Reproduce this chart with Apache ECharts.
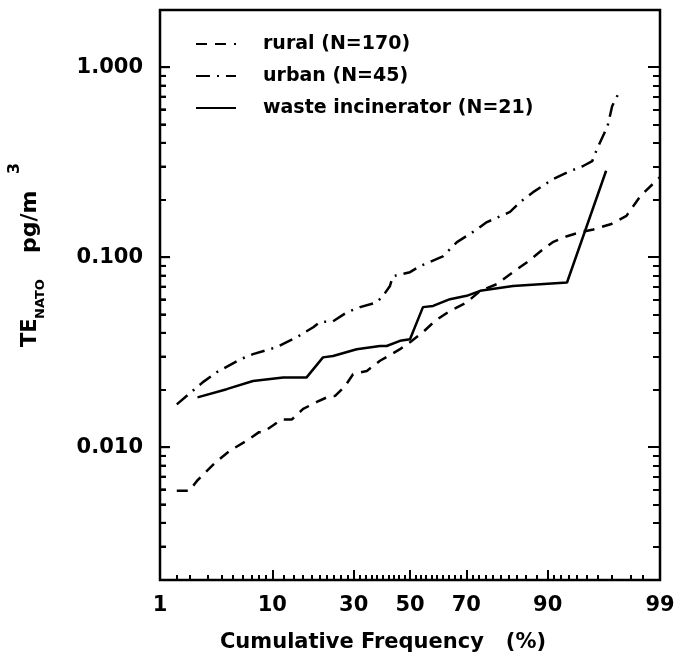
<!DOCTYPE html>
<html>
<head>
<meta charset="utf-8">
<script src="https://cdn.jsdelivr.net/npm/echarts@6/dist/echarts.min.js"></script>
<style>
html,body{margin:0;padding:0;background:#fff;}
#chart{width:678px;height:659px;}
</style>
</head>
<body>
<div id="chart"></div>
<script>
// ---- data (cumulative frequency in %, concentration in pg/m3) ----
const ruralPct = [1.5, 2.0, 2.4, 3.5, 4.7, 6.4, 8.0, 8.6, 10.1, 11.6, 13.6, 16.0, 19.3, 22.8, 24.3, 27.3, 29.8, 34.4, 39.0, 46.3, 50.0, 54.8, 59.2, 64.5, 70.1, 74.3, 79.0, 83.1, 86.2, 89.2, 90.8, 92.8, 94.3, 95.6, 96.9, 97.8, 98.4, 99.0];
const ruralVal = [0.0059, 0.0059, 0.0067, 0.0083, 0.0096, 0.0108, 0.0120, 0.0120, 0.0130, 0.0140, 0.0140, 0.0159, 0.0173, 0.0186, 0.0186, 0.0210, 0.0242, 0.0252, 0.0285, 0.0328, 0.0357, 0.0403, 0.0462, 0.0522, 0.0578, 0.0665, 0.0721, 0.0834, 0.0941, 0.110, 0.120, 0.129, 0.135, 0.140, 0.149, 0.165, 0.210, 0.264];

const urbanPct = [1.5, 2.7, 3.6, 5.7, 7.2, 10.7, 14.6, 18.4, 20.1, 23.7, 27.8, 32.1, 37.8, 40.1, 42.6, 43.7, 50.0, 53.7, 62.0, 66.9, 73.3, 76.3, 82.4, 84.7, 87.4, 90.8, 93.2, 94.6, 95.5, 95.9, 96.7, 97.0, 97.5];
const urbanVal = [0.0168, 0.0220, 0.0248, 0.0290, 0.0309, 0.0336, 0.0379, 0.0428, 0.0456, 0.0460, 0.0512, 0.0546, 0.0578, 0.0626, 0.0706, 0.0794, 0.0834, 0.0897, 0.101, 0.120, 0.140, 0.153, 0.173, 0.195, 0.220, 0.257, 0.284, 0.301, 0.320, 0.370, 0.489, 0.623, 0.766];

const wastePct = [2.4, 4.4, 7.2, 11.9, 16.8, 20.9, 23.7, 31.0, 39.0, 41.4, 46.3, 50.0, 54.8, 58.5, 64.5, 70.1, 74.3, 83.1, 92.8, 96.6];
const wasteVal = [0.0183, 0.0202, 0.0223, 0.0233, 0.0233, 0.0297, 0.0302, 0.0328, 0.0341, 0.0341, 0.0363, 0.0370, 0.0546, 0.0554, 0.0601, 0.0626, 0.0665, 0.0706, 0.0736, 0.285];

const seriesNames = ['rural (N=170)', 'urban (N=45)', 'waste incinerator (N=21)'];

// ---- tick labels ----
const xTickLabels = [1, 10, 30, 50, 70, 90, 99];
const xMinorTicks = [1.5, 2, 3, 4, 5, 6, 7, 8, 9, 12, 14, 16, 18, 20, 22, 24, 26, 28, 32, 34, 36, 38, 40, 42, 44, 46, 48, 52, 54, 56, 58, 60, 62, 64, 66, 68, 72, 74, 76, 78, 80, 82, 84, 86, 88, 91, 92, 93, 94, 95, 96, 97, 98, 98.5];
const yTickValues = [0.01, 0.1, 1];
const yTickLabels = ['0.010', '0.100', '1.000'];
const yMinorTicks = [0.003, 0.004, 0.005, 0.006, 0.007, 0.008, 0.009, 0.02, 0.03, 0.04, 0.05, 0.06, 0.07, 0.08, 0.09, 0.2, 0.3, 0.4, 0.5, 0.6, 0.7, 0.8, 0.9];
const xRange = [1, 99];
const yRange = [0.002, 2];

// inverse normal CDF (probability-paper scale)
function probit(p) {
  const a=[-3.969683028665376e+01,2.209460984245205e+02,-2.759285104469687e+02,1.383577518672690e+02,-3.066479806614716e+01,2.506628277459239e+00];
  const b=[-5.447609879822406e+01,1.615858368580409e+02,-1.556989798598866e+02,6.680131188771972e+01,-1.328068155288572e+01];
  const c=[-7.784894002430293e-03,-3.223964580411365e-01,-2.400758277161838e+00,-2.549732539343734e+00,4.374664141464968e+00,2.938163982698783e+00];
  const d=[7.784695709041462e-03,3.224671290700398e-01,2.445134137142996e+00,3.754408661907416e+00];
  const pl=0.02425, ph=1-pl;
  let q, r;
  if (p < pl) { q=Math.sqrt(-2*Math.log(p)); return (((((c[0]*q+c[1])*q+c[2])*q+c[3])*q+c[4])*q+c[5])/((((d[0]*q+d[1])*q+d[2])*q+d[3])*q+1); }
  if (p > ph) { q=Math.sqrt(-2*Math.log(1-p)); return -(((((c[0]*q+c[1])*q+c[2])*q+c[3])*q+c[4])*q+c[5])/((((d[0]*q+d[1])*q+d[2])*q+d[3])*q+1); }
  q=p-0.5; r=q*q;
  return (((((a[0]*r+a[1])*r+a[2])*r+a[3])*r+a[4])*r+a[5])*q/(((((b[0]*r+b[1])*r+b[2])*r+b[3])*r+b[4])*r+1);
}
const P = v => probit(v / 100);

const FONT = 'DejaVu Sans';
const xMin = P(xRange[0]), xMax = P(xRange[1]);
const xMajorVals = xTickLabels.map(P);

function xLabelFmt(v) {
  let best = 0, bd = Infinity;
  xMajorVals.forEach((m, i) => { const dd = Math.abs(m - v); if (dd < bd) { bd = dd; best = i; } });
  return String(xTickLabels[best]);
}
function yLabelFmt(v) {
  let best = 0, bd = Infinity;
  yTickValues.forEach((m, i) => { const dd = Math.abs(Math.log10(m) - Math.log10(v)); if (dd < bd) { bd = dd; best = i; } });
  return yTickLabels[best];
}

function xAx(extra) {
  return Object.assign({ type: 'value', min: xMin, max: xMax, position: 'bottom',
    axisLine: { show: false, onZero: false }, splitLine: { show: false } }, extra);
}
function yAx(extra) {
  return Object.assign({ type: 'log', logBase: 10, min: yRange[0], max: yRange[1],
    axisLine: { show: false, onZero: false }, splitLine: { show: false } }, extra);
}
const tickStyle = () => ({ color: '#000', width: 2 });

const mkData = (pct, val) => pct.map((p, i) => [P(p), val[i]]);

// inward tick marks along the left frame, placed through the chart's own scales
function leftTickSeries(values, len) {
  return {
    type: 'custom', xAxisIndex: 0, yAxisIndex: 0, silent: true, z: 10, clip: false,
    data: values.map(v => [xMin, v]),
    renderItem: function (params, api) {
      const pt = api.coord([api.value(0), api.value(1)]);
      return { type: 'line', shape: { x1: pt[0], y1: pt[1], x2: pt[0] + len, y2: pt[1] }, style: { stroke: '#000', lineWidth: 2 } };
    }
  };
}

const option = {
  animation: false,
  grid: { left: 160, right: 18, top: 10, bottom: 79, show: true, borderColor: '#000', borderWidth: 2.5 },
  xAxis: [
    xAx({
      axisTick: { show: true, inside: true, length: 10, lineStyle: tickStyle(), customValues: xMajorVals },
      axisLabel: { show: true, customValues: xMajorVals, formatter: xLabelFmt, margin: 15, color: '#000', fontFamily: FONT, fontWeight: 'bold', fontSize: 21 },
      name: 'Cumulative Frequency   (%)', nameLocation: 'middle', nameGap: 52,
      nameTextStyle: { color: '#000', fontFamily: FONT, fontWeight: 'bold', fontSize: 21, padding: [0, 54, 0, 0] }
    }),
    xAx({
      axisTick: { show: true, inside: true, length: 5, lineStyle: tickStyle(), customValues: xMinorTicks.map(P) },
      axisLabel: { show: false }
    })
  ],
  yAxis: [
    yAx({
      position: 'left',
      axisTick: { show: true, inside: true, length: 10, lineStyle: tickStyle(), customValues: yTickValues },
      axisLabel: { show: true, customValues: yTickValues, formatter: yLabelFmt, margin: 17, color: '#000', fontFamily: FONT, fontWeight: 'bold', fontSize: 21 }
    }),
    yAx({
      position: 'left',
      axisTick: { show: true, inside: true, length: 6, lineStyle: tickStyle(), customValues: yMinorTicks },
      axisLabel: { show: false }
    }),
    yAx({
      position: 'right',
      axisTick: { show: true, inside: true, length: 12, lineStyle: tickStyle(), customValues: yTickValues },
      axisLabel: { show: false }
    }),
    yAx({
      position: 'right',
      axisTick: { show: true, inside: true, length: 7, lineStyle: tickStyle(), customValues: yMinorTicks },
      axisLabel: { show: false }
    })
  ],
  legend: {
    orient: 'vertical', left: 195, top: 33, padding: 0,
    itemWidth: 40, itemHeight: 14, itemGap: 10,
    data: seriesNames,
    itemStyle: { color: 'transparent', borderColor: 'transparent', borderWidth: 0 },
    textStyle: { color: '#000', fontFamily: FONT, fontWeight: 'bold', fontSize: 19, lineHeight: 22, padding: [0, 0, 0, 22] }
  },
  graphic: [
    { type: 'text', x: 31, y: 347, rotation: Math.PI / 2, style: { text: 'TE', x: 0, y: 0, fill: '#000', font: 'bold 21px "DejaVu Sans"', textAlign: 'left', textVerticalAlign: 'middle' } },
    { type: 'text', x: 40.5, y: 319, rotation: Math.PI / 2, style: { text: 'NATO', x: 0, y: 0, fill: '#000', font: 'bold 13px "DejaVu Sans"', textAlign: 'left', textVerticalAlign: 'middle' } },
    { type: 'text', x: 30.5, y: 253, rotation: Math.PI / 2, style: { text: 'pg/m', x: 0, y: 0, fill: '#000', font: 'bold 22px "DejaVu Sans"', textAlign: 'left', textVerticalAlign: 'middle' } },
    { type: 'text', x: 14.5, y: 174, rotation: Math.PI / 2, style: { text: '3', x: 0, y: 0, fill: '#000', font: 'bold 16px "DejaVu Sans"', textAlign: 'left', textVerticalAlign: 'middle' } }
  ],
  series: [
    { type: 'line', symbol: 'none', xAxisIndex: 0, yAxisIndex: 0, name: seriesNames[0], data: mkData(ruralPct, ruralVal), lineStyle: { color: '#000', width: 2.5, type: [11, 8] }, itemStyle: { color: '#000' } },
    { type: 'line', symbol: 'none', xAxisIndex: 0, yAxisIndex: 0, name: seriesNames[1], data: mkData(urbanPct, urbanVal), lineStyle: { color: '#000', width: 2.5, type: [14, 7, 2, 7] }, itemStyle: { color: '#000' } },
    { type: 'line', symbol: 'none', xAxisIndex: 0, yAxisIndex: 0, name: seriesNames[2], data: mkData(wastePct, wasteVal), lineStyle: { color: '#000', width: 2.5, type: 'solid' }, itemStyle: { color: '#000' } },
    leftTickSeries(yTickValues, 10),
    leftTickSeries(yMinorTicks, 6)
  ]
};

const chart = echarts.init(document.getElementById('chart'));
chart.setOption(option);
</script>
</body>
</html>
